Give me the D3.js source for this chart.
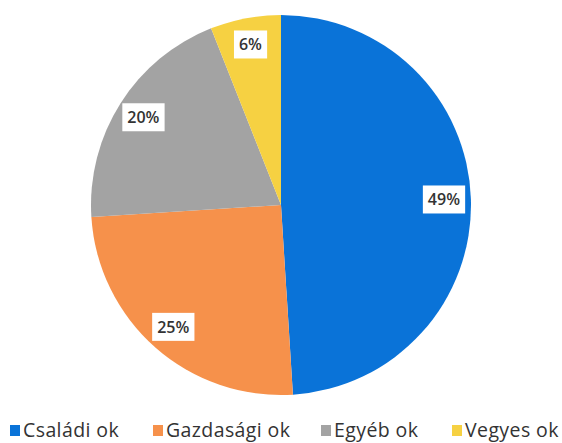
<!DOCTYPE html>
<html>
<head>
<meta charset="utf-8">
<script src="https://cdn.jsdelivr.net/npm/d3@7"></script>
<style>
  body { margin: 0; background: #fff; }
  svg { display: block; }
</style>
</head>
<body>
<div id="chart"></div>
<script>
// data
var categories = ["Családi ok", "Gazdasági ok", "Egyéb ok", "Vegyes ok"];
var values = [49, 25, 20, 6];
var colors = ["#0a73d8", "#f6914b", "#a3a3a3", "#f6d142"];

var width = 562, height = 443;
var cx = 281, cy = 205, radius = 190;

var svg = d3.select("#chart").append("svg")
  .attr("width", width)
  .attr("height", height);

var data = categories.map(function(c, i) {
  return {name: c, value: values[i], color: colors[i]};
});

var pie = d3.pie()
  .sort(null)
  .value(function(d) { return d.value; });

var arc = d3.arc().innerRadius(0).outerRadius(radius);
var labelArc = d3.arc().innerRadius(163).outerRadius(163);

var g = svg.append("g").attr("transform", "translate(" + cx + "," + cy + ")");

var arcs = pie(data);

g.selectAll("path.slice")
  .data(arcs)
  .enter()
  .append("path")
  .attr("class", "slice")
  .attr("d", arc)
  .attr("fill", function(d) { return d.data.color; });

// labels in white boxes
var labels = g.selectAll("g.lbl")
  .data(arcs)
  .enter()
  .append("g")
  .attr("class", "lbl")
  .attr("transform", function(d) {
    var p = labelArc.centroid(d);
    return "translate(" + p[0] + "," + p[1] + ")";
  });

labels.each(function(d) {
  var sel = d3.select(this);
  var t = sel.append("text")
    .attr("text-anchor", "middle")
    .attr("dy", "0.35em")
    .attr("font-family", "'Open Sans', sans-serif")
    .attr("font-size", 16)
    .attr("font-weight", 600)
    .attr("fill", "#333")
    .text(d.data.value + "%");
  var bb = t.node().getBBox();
  sel.insert("rect", "text")
    .attr("x", bb.x - 5)
    .attr("y", bb.y - 3)
    .attr("width", bb.width + 10)
    .attr("height", bb.height + 6)
    .attr("fill", "#fff");
});

// legend
var legendX = [10, 153, 321, 452];
var legend = svg.selectAll("g.legend")
  .data(data)
  .enter()
  .append("g")
  .attr("class", "legend")
  .attr("transform", function(d, i) { return "translate(" + legendX[i] + ",437)"; });

legend.append("rect")
  .attr("x", 0)
  .attr("y", -12)
  .attr("width", 10)
  .attr("height", 11)
  .attr("fill", function(d) { return d.color; });

legend.append("text")
  .attr("x", 13)
  .attr("y", 0)
  .attr("font-family", "'Open Sans', sans-serif")
  .attr("font-size", 19.5)
  .attr("letter-spacing", 0.4)
  .attr("fill", "#333")
  .text(function(d) { return d.name; });
</script>
</body>
</html>
